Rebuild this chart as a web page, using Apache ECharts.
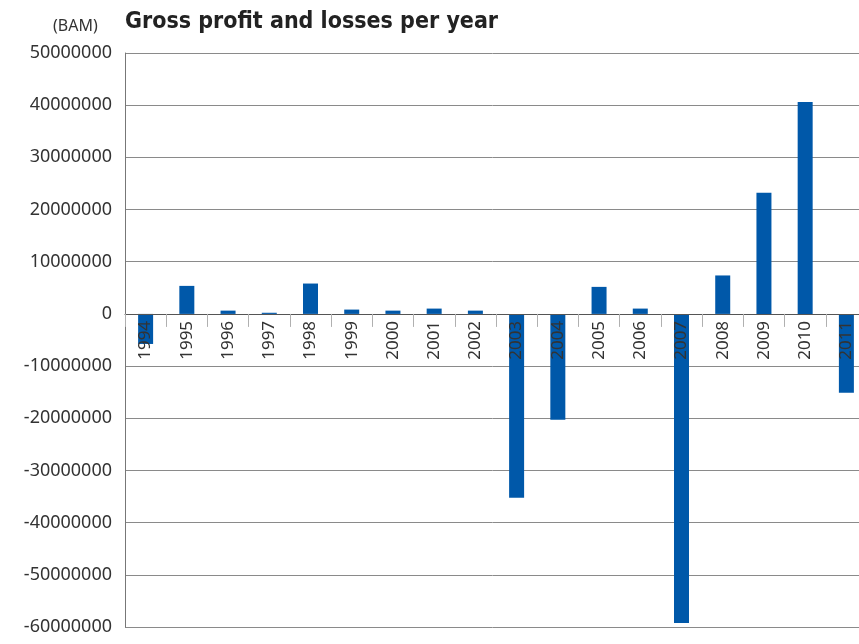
<!DOCTYPE html>
<html>
<head>
<meta charset="utf-8">
<script src="https://cdn.jsdelivr.net/npm/echarts@6/dist/echarts.min.js"></script>
<style>
  html, body { margin: 0; padding: 0; background: #fff; }
  #chart { width: 859px; height: 644px; }
</style>
</head>
<body>
<div id="chart"></div>
<script>
// Fiscal years on the category axis
const years = ['1994', '1995', '1996', '1997', '1998', '1999', '2000', '2001', '2002',
               '2003', '2004', '2005', '2006', '2007', '2008', '2009', '2010', '2011'];

// Gross profit (+) or loss (-) per year, in BAM
const grossResult = [-5760000, 5370000, 630000, 220000, 5820000, 830000, 630000, 1020000, 630000,
                     -35250000, -20300000, 5180000, 1020000, -59230000, 7370000, 23200000, 40630000, -15100000];

// Value axis range and step
const yMin = -60000000;
const yMax = 50000000;
const yStep = 10000000;

const chart = echarts.init(document.getElementById('chart'), null, { renderer: 'canvas' });

chart.setOption({
  animation: false,
  backgroundColor: '#ffffff',
  title: [
    {
      text: 'Gross profit and losses per year',
      left: 120,
      top: 6,
      textStyle: {
        fontFamily: 'DejaVu Sans Condensed',
        fontWeight: 'bold',
        fontSize: 23,
        color: '#222222'
      }
    },
    {
      text: '(BAM)',
      left: 48,
      top: 13,
      textStyle: {
        fontFamily: 'Noto Sans',
        fontWeight: 'normal',
        fontSize: 16,
        color: '#333333'
      }
    }
  ],
  grid: {
    left: 125,
    top: 53,
    right: -8,
    bottom: 17,
    containLabel: false,
    outerBoundsMode: 'none'
  },
  xAxis: {
    type: 'category',
    data: years,
    z: 5,
    boundaryGap: true,
    position: 'bottom',
    axisLine: {
      onZero: false,
      lineStyle: { color: '#555555', width: 1 }
    },
    axisTick: {
      show: true,
      alignWithLabel: false,
      length: 13,
      lineStyle: { color: '#b0b0b0', width: 1 }
    },
    axisLabel: {
      rotate: 90,
      interval: 0,
      margin: 7,
      fontFamily: 'Noto Sans',
      fontSize: 17,
      color: '#333333'
    },
    splitLine: { show: false }
  },
  yAxis: {
    type: 'value',
    min: yMin,
    max: yMax,
    interval: yStep,
    axisLine: {
      show: true,
      lineStyle: { color: '#777777', width: 1 }
    },
    axisTick: { show: false },
    axisLabel: {
      margin: 13,
      fontFamily: 'Noto Sans',
      fontSize: 18,
      color: '#333333',
      formatter: function (v) { return String(v); }
    },
    splitLine: {
      show: true,
      lineStyle: { color: '#8a8a8a', width: 1 }
    }
  },
  series: [
    {
      type: 'bar',
      data: grossResult,
      barWidth: 15,
      itemStyle: { color: '#0058a9' }
    }
  ]
});

// Lift the category axis (line, ticks and year labels) up to the zero value line
const zeroY = chart.convertToPixel({ yAxisIndex: 0 }, 0);
const bottomY = chart.convertToPixel({ yAxisIndex: 0 }, yMin);
chart.setOption({ xAxis: { offset: zeroY - bottomY } });
</script>
</body>
</html>
